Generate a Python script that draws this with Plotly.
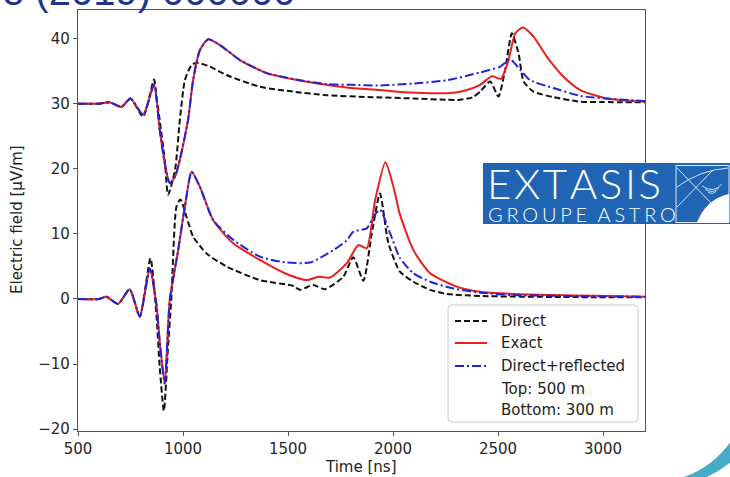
import plotly.graph_objects as go

# ---------------------------------------------------------------------------
# Pulse traces (time in ns, field in uV/m). The 500 m traces are plotted
# shifted up by TOP_OFFSET so both distances fit on one axis.
# ---------------------------------------------------------------------------
TOP_OFFSET = 30.0

# --- top: antenna at 500 m ---
t_direct_top = [500, 600, 651, 707, 750, 810, 862, 874, 889, 913, 929, 962, 985, 1009, 1040,
                1064, 1128, 1207, 1366, 1524, 1684, 1900, 2100, 2256, 2320, 2380, 2415, 2463,
                2502, 2534, 2566, 2598, 2622, 2669, 2765, 2892, 3000, 3200]
v_direct_top = [0, 0, 0.2, -0.5, 0.8, -2.0, 3.7, 1.0, -2.5, -8.6, -14.0, -10.2, -2.5, 3.6, 5.9,
                6.3, 5.7, 4.4, 2.6, 1.85, 1.3, 1.0, 0.8, 0.6, 0.6, 1.0, 1.85, 3.4,
                1.1, 5.2, 10.8, 7.7, 3.4, 1.85, 1.0, 0.3, 0.25, 0.2]

t_exact_top = [500, 600, 651, 707, 750, 810, 862, 889, 913, 937, 962, 985, 1024, 1048, 1080,
               1120, 1176, 1271, 1398, 1525, 1684, 1800, 1938, 2033, 2256, 2340, 2415, 2471,
               2514, 2550, 2582, 2619, 2669, 2733, 2812, 2892, 3019, 3200]
v_exact_top = [0, 0, 0.2, -0.5, 0.8, -1.7, 2.9, -4.0, -9.1, -12.2, -11.2, -8.6, -2.5, 3.6, 8.2,
               9.9, 9.0, 6.7, 4.7, 3.75, 2.9, 2.4, 2.1, 1.8, 1.6, 2.0, 2.9, 4.2,
               3.8, 6.7, 10.8, 11.7, 10.3, 7.2, 4.15, 2.1, 0.8, 0.3]

t_refl_top = [500, 600, 651, 707, 750, 810, 862, 889, 913, 937, 962, 985, 1024, 1048, 1080,
              1120, 1176, 1271, 1398, 1525, 1684, 1800, 1938, 2097, 2256, 2415, 2511, 2558,
              2606, 2653, 2765, 2892, 3051, 3200]
v_refl_top = [0, 0, 0.2, -0.5, 0.8, -1.7, 2.9, -4.0, -9.1, -12.2, -11.2, -8.6, -2.5, 3.6, 8.2,
              9.9, 9.0, 6.7, 4.7, 3.8, 3.0, 2.9, 2.8, 3.1, 3.6, 4.8, 5.7, 6.8,
              5.2, 3.6, 2.4, 1.2, 0.7, 0.4]

# --- bottom: antenna at 300 m ---
t_direct_bot = [500, 600, 635, 691, 746, 794, 845, 874, 889, 909, 928, 945, 969, 988, 1017,
                1048, 1112, 1207, 1366, 1525, 1557, 1620, 1676, 1763, 1811, 1859, 1899, 1938,
                1978, 2033, 2097, 2177, 2256, 2415, 2800, 3200]
v_direct_bot = [0, 0, 0.35, -0.75, 1.5, -2.7, 6.25, -2.7, -10.4, -17.2, -7.8, 0.35, 14.2, 15.3, 12.6,
                9.6, 7.0, 5.0, 2.9, 2.0, 1.4, 2.15, 1.5, 3.4, 6.4, 2.8, 10.1, 16.2,
                8.6, 4.2, 2.65, 1.4, 0.77, 0.46, 0.3, 0.25]

t_exact_bot = [500, 600, 635, 691, 746, 794, 842, 874, 889, 913, 937, 977, 1009, 1041, 1080,
               1144, 1239, 1366, 1493, 1589, 1644, 1700, 1780, 1835, 1875, 1915, 1964, 2002,
               2033, 2097, 2177, 2304, 2415, 2574, 3200]
v_exact_bot = [0, 0, 0.35, -0.75, 1.5, -2.7, 4.7, -1.0, -6.5, -13.0, -0.15, 7.5, 14.2, 19.55, 17.25,
               12.1, 8.55, 6.0, 3.84, 2.9, 3.4, 3.3, 5.5, 8.3, 7.8, 15.2, 21.0, 17.25,
               13.0, 7.5, 3.95, 1.9, 1.1, 0.77, 0.35]

t_refl_bot = [500, 600, 635, 691, 746, 794, 842, 874, 889, 913, 937, 977, 1009, 1041, 1080,
              1144, 1239, 1366, 1493, 1605, 1716, 1780, 1811, 1875, 1906, 1938, 1986, 2033,
              2097, 2177, 2288, 2415, 2574, 3200]
v_refl_bot = [0, 0, 0.35, -0.75, 1.5, -2.7, 4.7, -1.0, -6.5, -13.0, -0.15, 7.5, 14.2, 19.55, 17.25,
              12.1, 9.1, 6.5, 5.6, 5.6, 7.5, 9.0, 10.35, 10.85, 12.6, 13.7, 10.1, 6.3,
              3.95, 2.65, 1.6, 0.97, 0.6, 0.35]

x_ticks = [500, 1000, 1500, 2000, 2500, 3000]
y_ticks = [-20, -10, 0, 10, 20, 30, 40]

legend_labels = ["Direct", "Exact", "Direct+reflected", "Top: 500 m", "Bottom: 300 m"]

# ---------------------------------------------------------------------------
# Styling
# ---------------------------------------------------------------------------
W, H = 730, 477
L, R, T, B = 78, 85, 10, 46
PW, PH = W - L - R, H - T - B

BLACK = "#111111"
RED = "#e8201e"
BLUE = "#2222dd"
DASH = "6px,3px"
DASHDOT = "9px,3px,2px,3px"
AXIS = "#555555"
FONT = "DejaVu Sans"
TEXT = "#222222"


def px(x):
    return (x - L) / PW


def py(y):
    return (H - B - y) / PH


def pt(x, y):
    return f"{px(x):.5f},{py(y):.5f}"


fig = go.Figure()


def add_curve(t, v, color, dash, offset=0.0):
    fig.add_trace(go.Scatter(
        x=t, y=[val + offset for val in v], mode="lines",
        line=dict(color=color, width=2, dash=dash, shape="spline", smoothing=0.6),
        showlegend=False, hoverinfo="skip"))


add_curve(t_direct_top, v_direct_top, BLACK, DASH, TOP_OFFSET)
add_curve(t_direct_bot, v_direct_bot, BLACK, DASH)
add_curve(t_exact_top, v_exact_top, RED, "solid", TOP_OFFSET)
add_curve(t_exact_bot, v_exact_bot, RED, "solid")
add_curve(t_refl_top, v_refl_top, BLUE, DASHDOT, TOP_OFFSET)
add_curve(t_refl_bot, v_refl_bot, BLUE, DASHDOT)

shapes = []
annotations = []

# --- legend box (rounded frame) ---
x0, x1, y0, y1, r = 448, 638, 305, 422, 4
frame = (f"M {pt(x0 + r, y0)} L {pt(x1 - r, y0)} Q {pt(x1, y0)} {pt(x1, y0 + r)} "
         f"L {pt(x1, y1 - r)} Q {pt(x1, y1)} {pt(x1 - r, y1)} L {pt(x0 + r, y1)} "
         f"Q {pt(x0, y1)} {pt(x0, y1 - r)} L {pt(x0, y0 + r)} Q {pt(x0, y0)} {pt(x0 + r, y0)} Z")
shapes.append(dict(type="path", path=frame, xref="paper", yref="paper", layer="above",
                   fillcolor="rgba(255,255,255,0.85)", line=dict(color="#cccccc", width=1)))

row_y = [321, 343, 366, 389, 410]
handles = [(BLACK, DASH), (RED, "solid"), (BLUE, DASHDOT), None, None]
for label, yy, hd in zip(legend_labels, row_y, handles):
    if hd is not None:
        shapes.append(dict(type="line", xref="paper", yref="paper", layer="above",
                           x0=px(455), x1=px(487), y0=py(yy), y1=py(yy),
                           line=dict(color=hd[0], width=2, dash=hd[1])))
    annotations.append(dict(text=label, x=px(499), y=py(yy), xref="paper", yref="paper",
                            xanchor="left", yanchor="middle", showarrow=False,
                            font=dict(family=FONT, size=15, color=TEXT)))

# --- axis titles ---
annotations.append(dict(text="Electric field [μV/m]", x=px(17), y=py(220), xref="paper",
                        yref="paper", textangle=-90, showarrow=False,
                        xanchor="center", yanchor="middle",
                        font=dict(family=FONT, size=15, color=TEXT)))
annotations.append(dict(text="Time [ns]", x=px(361), y=py(467), xref="paper",
                        yref="paper", showarrow=False,
                        xanchor="center", yanchor="middle",
                        font=dict(family=FONT, size=15, color=TEXT)))

# --- EXTASIS / Groupe Astro badge ---
LOGO_BLUE = "#2065b4"
shapes.append(dict(type="rect", xref="paper", yref="paper", layer="above",
                   x0=px(483), x1=px(731), y0=py(163), y1=py(224),
                   fillcolor=LOGO_BLUE, line=dict(width=0)))
shapes.append(dict(type="rect", xref="paper", yref="paper", layer="above",
                   x0=px(676), x1=px(729), y0=py(165.5), y1=py(222.5),
                   fillcolor=LOGO_BLUE, line=dict(color="rgba(255,255,255,0.85)", width=1)))
shapes.append(dict(type="path", xref="paper", yref="paper", layer="above",
                   path=f"M {pt(697, 222.5)} Q {pt(706, 199)} {pt(729, 194)} L {pt(729, 222.5)} Z",
                   fillcolor="white", line=dict(width=0)))
for (a, b) in [((677, 168), (711, 203)), ((677, 207), (713, 170))]:
    shapes.append(dict(type="line", xref="paper", yref="paper", layer="above",
                       x0=px(a[0]), y0=py(a[1]), x1=px(b[0]), y1=py(b[1]),
                       line=dict(color="rgba(255,255,255,0.8)", width=1)))
shapes.append(dict(type="path", xref="paper", yref="paper", layer="above",
                   path=f"M {pt(677, 187)} Q {pt(700, 170)} {pt(728, 168)}",
                   line=dict(color="rgba(255,255,255,0.8)", width=1)))
for k in range(3):
    s = 4 + 3 * k
    shapes.append(dict(type="path", xref="paper", yref="paper", layer="above",
                       path=f"M {pt(712 - s, 196 - s)} Q {pt(712 + s * 0.2, 196 - s * 0.2)} {pt(712 + s, 196 - s * 1.2)}",
                       line=dict(color="rgba(255,255,255,0.75)", width=1)))

HAIR = "\u200a"
THIN = "\u2009"
annotations.append(dict(text=HAIR.join("EXTASIS"), x=px(485), y=py(182.5),
                        xref="paper", yref="paper", xanchor="left", yanchor="middle",
                        showarrow=False,
                        font=dict(family="Lato Light, Lato", size=42, color="white", weight=300)))
annotations.append(dict(text=(THIN + HAIR).join("GROUPE") + THIN + " " + THIN + (THIN + HAIR).join("ASTRO"),
                        x=px(486), y=py(214),
                        xref="paper", yref="paper", xanchor="left", yanchor="middle",
                        showarrow=False,
                        font=dict(family="Lato Light, Lato", size=20, color="white", weight=300)))

# --- slide decorations: clipped heading text and teal corner band ---
annotations.append(dict(text="e (2019) 000000", x=px(0), y=py(-8.5), xref="paper", yref="paper",
                        xanchor="left", yanchor="middle", showarrow=False,
                        font=dict(family="Liberation Sans", size=40, color="#1b3590")))
shapes.append(dict(type="path", xref="paper", yref="paper", layer="above",
                   path=(f"M {pt(681, 478)} Q {pt(712, 468)} {pt(731, 441)} L {pt(731, 462)} "
                         f"Q {pt(718, 472)} {pt(705, 478)} Z"),
                   fillcolor="#47abc7", line=dict(width=0)))

axis_common = dict(showline=True, linecolor=AXIS, linewidth=1.3, mirror=True,
                   ticks="outside", ticklen=4, tickwidth=1.2, tickcolor=AXIS,
                   showgrid=False, zeroline=False, automargin=False,
                   tickfont=dict(family=FONT, size=15, color="#262626"))

fig.update_layout(
    width=W, height=H,
    margin=dict(l=L, r=R, t=T, b=B, pad=0),
    paper_bgcolor="white", plot_bgcolor="white",
    xaxis=dict(range=[500, 3200], tickvals=x_ticks, **axis_common),
    yaxis=dict(range=[-20.28, 44.39], tickvals=y_ticks, **axis_common),
    shapes=shapes,
    annotations=annotations,
    showlegend=False,
)

fig.write_html("out.html")
